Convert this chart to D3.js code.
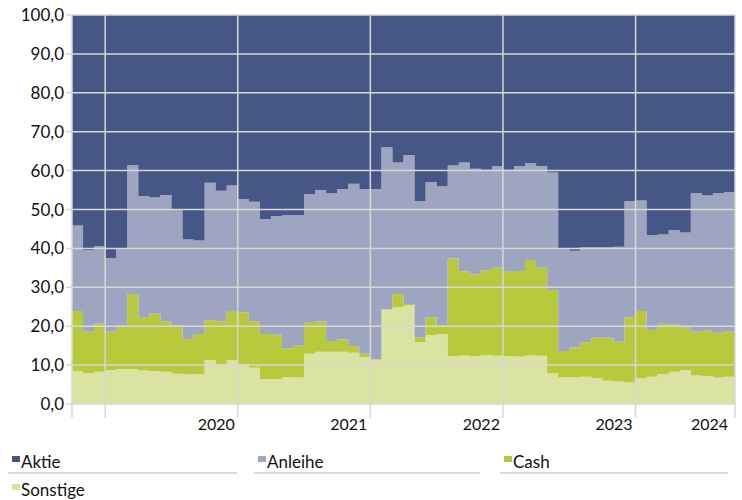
<!DOCTYPE html>
<html><head><meta charset="utf-8">
<script src="https://cdn.jsdelivr.net/npm/d3@7"></script>
<style>body{margin:0;background:#fff;} svg{display:block;font-family:Lato,"Open Sans",sans-serif;}</style>
</head><body><svg id="c" width="742" height="500"></svg>
<script>
const months = ["2019-10","2019-11","2019-12",
"2020-01","2020-02","2020-03","2020-04","2020-05","2020-06","2020-07","2020-08","2020-09","2020-10","2020-11","2020-12",
"2021-01","2021-02","2021-03","2021-04","2021-05","2021-06","2021-07","2021-08","2021-09","2021-10","2021-11","2021-12",
"2022-01","2022-02","2022-03","2022-04","2022-05","2022-06","2022-07","2022-08","2022-09","2022-10","2022-11","2022-12",
"2023-01","2023-02","2023-03","2023-04","2023-05","2023-06","2023-07","2023-08","2023-09","2023-10","2023-11","2023-12",
"2024-01","2024-02","2024-03","2024-04","2024-05","2024-06","2024-07","2024-08","2024-09"];
const seriesNames = ["Aktie","Anleihe","Cash","Sonstige"];
const sonstige = [8.5,8.0,8.3,8.7,9.0,9.0,8.6,8.5,8.3,7.8,7.6,7.7,11.3,10.3,11.3,10.2,9.3,6.4,6.4,6.9,6.8,12.9,13.4,13.4,13.4,13.2,12.0,11.4,24.3,24.9,25.4,15.9,17.7,18.0,12.3,12.5,12.3,12.6,12.4,12.3,12.2,12.5,12.4,7.9,6.9,6.9,7.0,6.7,6.0,5.8,5.5,6.6,7.0,7.7,8.3,8.7,7.3,7.2,6.8,7.0];
const cash = [15.4,10.6,12.3,9.9,11.1,19.3,13.6,14.7,13.0,12.4,9.1,10.3,10.3,10.9,12.6,13.4,12.0,11.6,11.4,7.4,8.2,8.0,7.8,2.8,3.2,1.7,0.9,0.1,0.0,3.4,0.3,1.2,4.6,2.3,25.1,21.6,21.0,21.8,22.6,21.7,22.0,24.5,22.6,21.4,6.7,7.6,8.9,10.3,11.0,10.2,16.8,17.3,12.0,12.9,12.1,10.9,11.3,11.6,11.5,11.6];
const anleihe = [22.0,21.0,20.0,18.9,19.9,33.1,31.3,29.9,32.4,29.8,25.6,24.0,35.3,33.6,32.3,29.1,30.7,29.5,30.5,34.2,33.5,33.1,33.8,38.0,38.7,41.7,42.4,43.8,41.7,33.8,38.3,35.1,34.8,35.7,23.9,28.0,27.2,25.8,26.1,26.2,27.0,24.9,26.2,30.2,26.4,24.9,24.4,23.3,23.3,24.4,29.9,28.4,24.4,23.0,24.3,24.5,35.6,34.8,35.9,35.9];
const aktie = [54.1,60.4,59.4,62.5,60.0,38.6,46.5,46.9,46.3,50.0,57.7,58.0,43.1,45.2,43.8,47.3,48.0,52.5,51.7,51.5,51.5,46.0,45.0,45.8,44.7,43.4,44.7,44.7,34.0,37.9,36.0,47.8,42.9,44.0,38.7,37.9,39.5,39.8,38.9,39.8,38.8,38.1,38.8,40.5,60.0,60.6,59.7,59.7,59.7,59.6,47.8,47.7,56.6,56.4,55.3,55.9,45.8,46.4,45.8,45.5];
const yTicks = [0,10,20,30,40,50,60,70,80,90,100];
const yearLabels = ["2020","2021","2022","2023","2024"];
const yearStarts = ["2020-01","2021-01","2022-01","2023-01","2024-01"];
const colors = {Aktie:"#465687",Anleihe:"#9ea5c0",Cash:"#b8c93b",Sonstige:"#dae3a1"};

const svg = d3.select("#c");
const L=72,R=735,T=15,B=404;
const x = d3.scaleBand().domain(months).range([L,R]).padding(0);
const y = d3.scaleLinear().domain([0,100]).range([B,T]);
const table = months.map((m,i)=>({m,Aktie:aktie[i],Anleihe:anleihe[i],Cash:cash[i],Sonstige:sonstige[i]}));
const stack = d3.stack().keys(["Sonstige","Cash","Anleihe","Aktie"]);
const layers = stack(table);
const area = d3.area().curve(d3.curveStepAfter).x(p=>p.x).y0(p=>y(p.y0)).y1(p=>y(p.y1));
layers.forEach(layer=>{
  const pts = layer.map((d,i)=>({x:x(months[i]),y0:d[0],y1:d[1]}));
  const last = layer[layer.length-1];
  pts.push({x:x.range()[1],y0:last[0],y1:last[1]});
  svg.append("path").attr("d",area(pts)).attr("fill",colors[layer.key]);
});
const fmt = d3.formatLocale({decimal:",",thousands:".",grouping:[3],currency:["","€"]}).format(".1f");
const grid = svg.append("g").attr("stroke","#d7d7d7").attr("stroke-width",1.5);
yTicks.forEach(t=>{
  grid.append("line").attr("x1",66).attr("x2",R).attr("y1",y(t)).attr("y2",y(t));
});
const vx = [L, ...yearStarts.map(m=>x(m)), R];
vx.forEach(v=>{
  grid.append("line").attr("x1",v).attr("x2",v).attr("y1",T).attr("y2",B+14);
});
svg.append("g").selectAll("text").data(yTicks).join("text")
  .attr("x",64).attr("y",t=>y(t)+6).attr("text-anchor","end")
  .attr("font-size",17).attr("fill","#111").text(t=>fmt(t));
svg.append("g").selectAll("text").data(yearLabels).join("text")
  .attr("x",(d,i)=> i<yearLabels.length-1 ? x(yearStarts[i+1])-3 : R-7)
  .attr("y",430).attr("text-anchor","end").attr("font-size",16).attr("fill","#111").text(d=>d);
// legend
const legendItems = [
  {k:"Aktie",x:8,y:462},{k:"Anleihe",x:254,y:462},{k:"Cash",x:500,y:462},{k:"Sonstige",x:8,y:490}];
const lg = svg.append("g");
legendItems.forEach(it=>{
  lg.append("rect").attr("x",it.x+4).attr("y",it.y-6).attr("width",8).attr("height",6).attr("fill",colors[it.k]);
  lg.append("text").attr("x",it.x+13).attr("y",it.y+6).attr("font-size",17).attr("fill","#111").text(it.k);
});
[[8,237],[254,480],[500,728]].forEach(s=>{
  lg.append("line").attr("x1",s[0]).attr("x2",s[1]).attr("y1",473).attr("y2",473).attr("stroke","#d9d9d9").attr("stroke-width",2);
});
</script></body></html>
